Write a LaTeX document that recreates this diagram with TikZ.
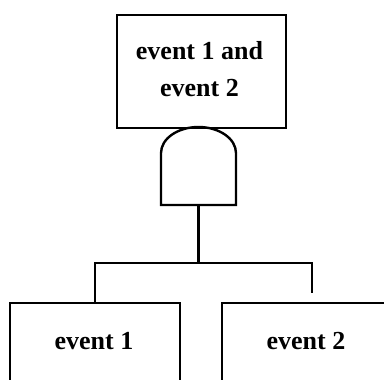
\documentclass[tikz,border=0pt]{standalone}
\usepackage{fontspec}
\setmainfont{Liberation Serif}
\begin{document}
\begin{tikzpicture}[x=1pt,y=-1pt, line width=2.4pt,
  box/.style={draw, anchor=north west, inner sep=0pt, minimum width=169pt},
  lbl/.style={align=center, inner sep=0pt, font=\bfseries\fontsize{26}{37}\selectfont},
  wire/.style={draw, line width=2.4pt}]
\useasboundingbox (0,0) rectangle (384,380);
\clip (0,0) rectangle (384,380);
\node[box, minimum height=113pt] (top) at (116,14) {};
\node[lbl] (toptext) at (199.5,68.7) {event 1 and\\event 2};
\node[box, minimum height=80pt, minimum width=170pt] (e1) at (9,302) {};
\node[lbl] (e1text) at (94,341) {event 1};
\node[box, minimum height=80pt, minimum width=170pt] (e2) at (221,302) {};
\node[lbl] (e2text) at (306,341) {event 2};
% AND gate
\coordinate (gl) at (161,205);
\coordinate (gr) at (236,205);
\coordinate (gout) at (198.5,205);
\draw (gl) -- (161,153) arc[start angle=180, end angle=0, x radius=37.5pt, y radius=26pt] -- (gr) -- cycle;
\coordinate (bar) at (198.5,263);
\coordinate (rdrop) at (312,293);
\draw[wire] (gout) -- (bar);
\draw[wire] (e1.north) |- (bar) -| (rdrop);
\end{tikzpicture}
\end{document}
